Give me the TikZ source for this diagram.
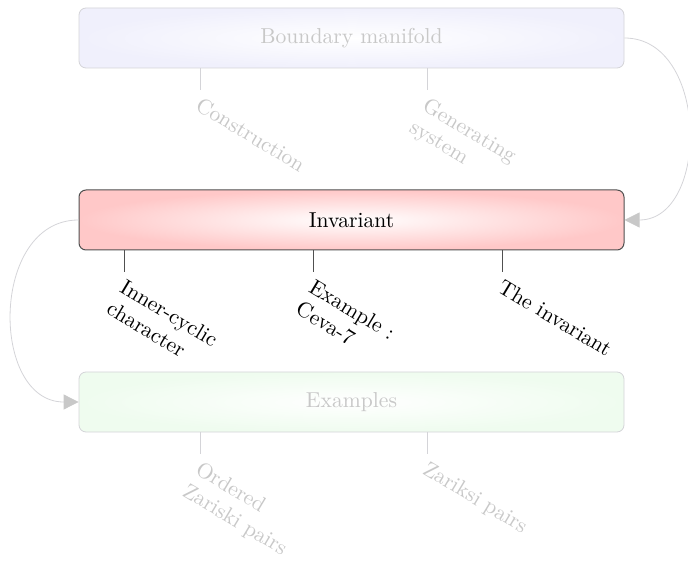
\documentclass[tikz,border=0pt]{standalone}
\usepackage{fontspec}
% one optical size for every text size, so large text keeps the 10pt design
\setmainfont{lmroman10-regular.otf}
\usetikzlibrary{arrows.meta}
\definecolor{faint}{HTML}{C8C8C8}
\definecolor{faintline}{HTML}{D4D4D8}
\definecolor{lavender}{HTML}{F0F0FC}
\definecolor{rosy}{HTML}{FFC8C8}
\definecolor{mint}{HTML}{EFFCEF}
\definecolor{darkedge}{HTML}{505050}
\begin{document}
\begin{tikzpicture}[x=1pt,y=1pt,
  bigfont/.style={font=\fontsize{21.6}{25.5}\selectfont},
  topic/.style={rounded corners=7pt, minimum width=545pt, minimum height=60pt,
    shading=radial, inner color=white, bigfont, line width=0.8pt},
  faded/.style={draw=faintline, text=faint},
  active/.style={draw=darkedge, text=black, line width=1pt},
  leaf/.style={rotate=-31, anchor=north west, align=left, inner sep=2pt,
    xshift=3pt, yshift=-2pt, bigfont},
  tick/.style={line width=0.8pt},
  flow/.style={draw=faintline, line width=0.8pt,
    -{Triangle[length=15pt,width=15pt,color=faint,fill=faint]}}
]
\useasboundingbox (0,0) rectangle (688,560);

% three topic bars
\node[topic, faded, outer color=lavender] (bm) at (351.5,522) {Boundary manifold};
\node[topic, active, outer color=rosy] (inv) at (351.5,340) {Invariant};
\node[topic, faded, outer color=mint] (ex) at (351.5,158) {Examples};

% leaves of the first bar
\coordinate (c1) at (200,470);
\coordinate (c2) at (427,470);
\draw[tick, faintline] (bm.south -| c1) -- (c1);
\draw[tick, faintline] (bm.south -| c2) -- (c2);
\node[leaf, text=faint] (l1) at (c1) {Construction};
\node[leaf, text=faint] (l2) at (c2) {Generating\\system};

% leaves of the second bar
\coordinate (d1) at (124,288);
\coordinate (d2) at (313,288);
\coordinate (d3) at (502,288);
\draw[tick, darkedge] (inv.south -| d1) -- (d1);
\draw[tick, darkedge] (inv.south -| d2) -- (d2);
\draw[tick, darkedge] (inv.south -| d3) -- (d3);
\node[leaf] (m1) at (d1) {Inner-cyclic\\character};
\node[leaf] (m2) at (d2) {Example :\\Ceva-7};
\node[leaf] (m3) at (d3) {The invariant};

% leaves of the third bar
\coordinate (e1) at (200,106);
\coordinate (e2) at (427,106);
\draw[tick, faintline] (ex.south -| e1) -- (e1);
\draw[tick, faintline] (ex.south -| e2) -- (e2);
\node[leaf, text=faint] (n1) at (e1) {Ordered\\Zariski pairs};
\node[leaf, text=faint] (n2) at (e2) {Zariksi pairs};

% links between the bars
\draw[flow] (bm.east) to[out=0, in=0, looseness=1.2] (inv.east);
\draw[flow] (inv.west) to[out=180, in=180, looseness=1.25] (ex.west);
\end{tikzpicture}
\end{document}
